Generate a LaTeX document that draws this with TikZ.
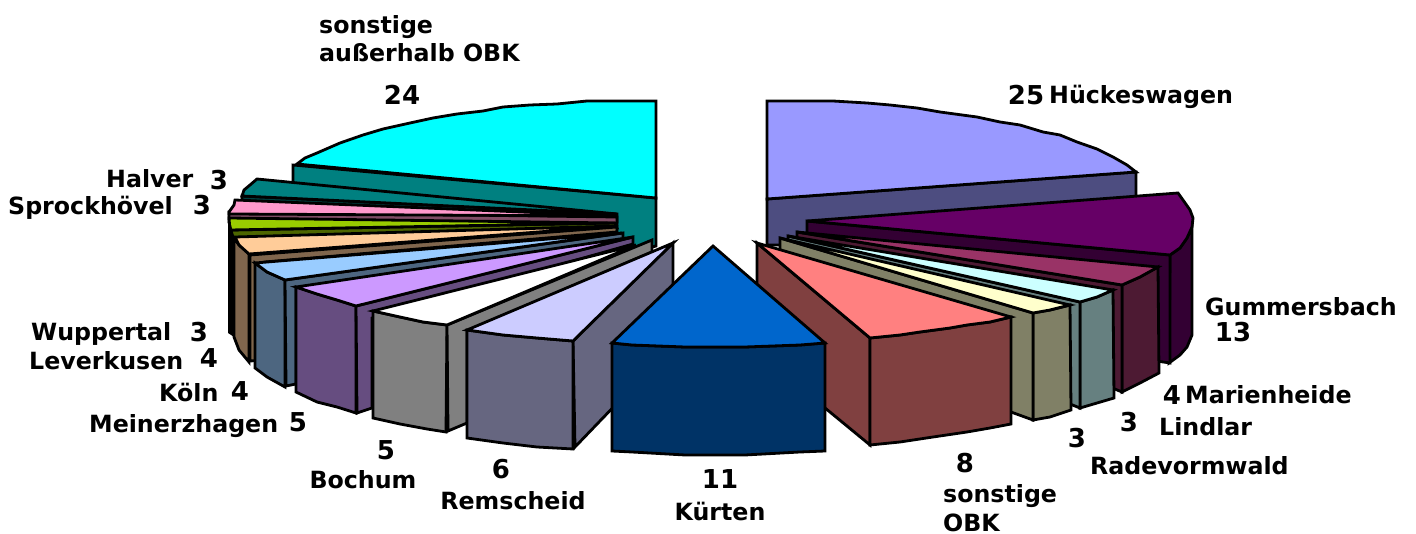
\documentclass[tikz,border=0pt]{standalone}
\usepackage{fontspec}
\setmainfont{DejaVu Sans}[BoldFont={DejaVu Sans Bold}]
\definecolor{cCyan}{HTML}{00FFFF}\definecolor{cCyanD}{HTML}{008080}
\definecolor{cHal}{HTML}{008080}\definecolor{cHalD}{HTML}{004040}
\definecolor{cPink}{HTML}{FF99CC}\definecolor{cPinkD}{HTML}{804D66}
\definecolor{cGreen}{HTML}{99CC00}\definecolor{cGreenD}{HTML}{4D6600}
\definecolor{cPeach}{HTML}{FFCC99}\definecolor{cPeachD}{HTML}{80664D}
\definecolor{cBlue}{HTML}{99CCFF}\definecolor{cBlueD}{HTML}{4D6680}
\definecolor{cLil}{HTML}{CC99FF}\definecolor{cLilD}{HTML}{664D80}
\definecolor{cWhite}{HTML}{FFFFFF}\definecolor{cWhiteD}{HTML}{808080}
\definecolor{cLav}{HTML}{CCCCFF}\definecolor{cLavD}{HTML}{666680}
\definecolor{cKue}{HTML}{0066CC}\definecolor{cKueD}{HTML}{003366}
\definecolor{cRed}{HTML}{FF8080}\definecolor{cRedD}{HTML}{804040}
\definecolor{cKha}{HTML}{FFFFCC}\definecolor{cKhaD}{HTML}{808066}
\definecolor{cLc}{HTML}{CCFFFF}\definecolor{cLcD}{HTML}{668080}
\definecolor{cMar}{HTML}{993366}\definecolor{cMarD}{HTML}{4D1A33}
\definecolor{cGum}{HTML}{660066}\definecolor{cGumD}{HTML}{330033}
\definecolor{cHue}{HTML}{9999FF}\definecolor{cHueD}{HTML}{4D4D80}
\tikzset{
  wedge/.style={draw=black,line width=2.8pt,fill=#1,line join=miter},
  lab/.style={font=\fontsize{23.7}{28}\selectfont\bfseries,inner sep=0pt,anchor=base west,yshift=-1pt},
  labc/.style={font=\fontsize{23.7}{28}\selectfont\bfseries,inner sep=0pt,anchor=base,yshift=-1pt},
  num/.style={font=\fontsize{26}{30}\selectfont\bfseries,inner sep=0pt,anchor=base},
}
\begin{document}
\begin{tikzpicture}[x=1pt,y=-1pt]
\useasboundingbox (0,0) rectangle (1416,534);
% --- right half, back to front
\path[wedge=cHueD] (767,199)--(1136,172)--(1136,200)--(780,245)--(767,245)--cycle;
\path[wedge=cHue] (767,199)--(767,101)--(833,101)--(867,103)--(890,105)--(917,108)--(940,112)--(977,117)--(1000,122)--(1020,125)--(1043,132)--(1060,135)--(1077,142)--(1097,149)--(1113,157)--(1127,165)--(1136,172)--cycle;
% Gummersbach
\path[wedge=cGumD] (1170,255)--(1180,248)--(1187,238)--(1192,227)--(1192,335)--(1187,347)--(1180,355)--(1169,363)--cycle;
\path[wedge=cGumD] (807,221)--(1170,255)--(1170,363)--(1150,360)--(807,240)--cycle;
\path[wedge=cGum] (807,221)--(1178,193)--(1183,200)--(1190,210)--(1193,218)--(1192,227)--(1187,238)--(1180,248)--(1170,255)--cycle;
% Marienheide
\path[wedge=cMarD] (1122,285)--(1140,277)--(1158,267)--(1159,373)--(1140,383)--(1122,392)--cycle;
\path[wedge=cMarD] (797,232)--(1122,285)--(1122,392)--(1105,385)--(797,250)--cycle;
\path[wedge=cMar] (797,232)--(1158,267)--(1140,277)--(1122,285)--cycle;
% Lindlar
\path[wedge=cLcD] (1080,302)--(1097,297)--(1113,290)--(1114,398)--(1097,403)--(1080,408)--cycle;
\path[wedge=cLcD] (788,236)--(1080,302)--(1080,408)--(1060,400)--(788,260)--cycle;
\path[wedge=cLc] (788,236)--(1113,290)--(1097,297)--(1080,302)--cycle;
% Radevormwald
\path[wedge=cKhaD] (1033,313)--(1050,310)--(1070,305)--(1071,410)--(1050,417)--(1033,420)--cycle;
\path[wedge=cKhaD] (780,238)--(1033,313)--(1033,420)--(1000,408)--(780,300)--cycle;
\path[wedge=cKha] (780,238)--(1070,305)--(1050,310)--(1033,313)--cycle;
% sonstige OBK
\path[wedge=cRedD] (757,243)--(870,338)--(870,445)--(757,352)--cycle;
\path[wedge=cRedD] (870,338)--(900,335)--(920,332)--(950,328)--(967,325)--(990,322)--(1011,317)--(1011,424)--(990,428)--(967,432)--(933,437)--(900,442)--(870,445)--cycle;
\path[wedge=cRed] (757,243)--(1011,317)--(990,322)--(967,325)--(950,328)--(920,332)--(900,335)--(870,338)--cycle;
% --- left half, back to front
\path[wedge=cCyanD] (293,165)--(656,198)--(656,246)--(600,260)--(293,200)--cycle;
\path[wedge=cCyan] (656,198)--(656,101)--(587,101)--(557,104)--(530,105)--(503,107)--(483,111)--(457,114)--(433,118)--(410,123)--(383,129)--(363,135)--(340,143)--(317,153)--(305,158)--(297,164)--cycle;
% Halver
\path[wedge=cHalD] (242,196)--(617,214)--(617,222)--(242,206)--cycle;
\path[wedge=cHal] (617,214)--(257,179)--(250,185)--(244,190)--(242,196)--cycle;
% Sprockhoevel
\path[wedge=cPinkD] (229,212)--(617,217)--(617,225)--(229,222)--cycle;
\path[wedge=cPink] (617,216)--(235,200)--(234,205)--(229,212)--(229,214)--cycle;
% green
\path[wedge=cGreenD] (231,230)--(615,223)--(617,228)--(231,238)--cycle;
\path[wedge=cGreen] (615,223)--(229,218)--(230,230)--cycle;
% far left dark wall
\fill[black] (228,214)--(234,236)--(234,337)--(228,333)--cycle;
% peach
\path[wedge=cPeachD] (234,238)--(239,245)--(249,254)--(249,362)--(239,350)--(234,337)--cycle;
\path[wedge=cPeachD] (250,255)--(617,227)--(617,232)--(265,262)--(265,360)--(250,361)--cycle;
\path[wedge=cPeach] (617,226)--(235,237)--(239,245)--(249,254)--cycle;
% blue
\path[wedge=cBlueD] (255,263)--(267,272)--(285,280)--(285,387)--(267,377)--(255,368)--cycle;
\path[wedge=cBlueD] (285,280)--(623,233)--(623,240)--(296,288)--(296,384)--(286,386)--cycle;
\path[wedge=cBlue] (622,233)--(255,263)--(267,272)--(285,280)--cycle;
% lilac
\path[wedge=cLilD] (296,287)--(317,294)--(337,300)--(356,306)--(356,413)--(337,407)--(317,402)--(296,392)--cycle;
\path[wedge=cLilD] (356,306)--(633,237)--(633,244)--(372,318)--(372,408)--(357,413)--cycle;
\path[wedge=cLil] (633,237)--(296,287)--(317,294)--(337,300)--(356,306)--cycle;
% Bochum
\path[wedge=cWhiteD] (373,311)--(400,317)--(423,322)--(447,325)--(446,432)--(427,429)--(400,424)--(373,418)--cycle;
\path[wedge=cWhiteD] (447,325)--(652,240)--(652,252)--(467,331)--(467,423)--(448,431)--cycle;
\path[wedge=cWhite] (636,245)--(373,311)--(400,317)--(423,322)--(447,325)--cycle;
% Remscheid
\path[wedge=cLavD] (573,341)--(673,243)--(673,345)--(575,447)--cycle;
\path[wedge=cLavD] (467,330)--(503,335)--(537,338)--(573,341)--(573,449)--(537,447)--(503,443)--(467,438)--cycle;
\path[wedge=cLav] (673,243)--(467,330)--(503,335)--(537,338)--(573,341)--cycle;
% Kuerten
\path[wedge=cKueD] (612,343)--(632,345)--(685,347)--(745,347)--(800,345)--(825,343)--(825,451)--(800,452)--(745,455)--(685,455)--(632,452)--(612,451)--cycle;
\path[wedge=cKue] (713,246)--(612,343)--(632,345)--(685,347)--(745,347)--(800,345)--(825,343)--cycle;
% --- labels
\node[lab] (a1) at (319,33) {sonstige};
\node[lab] (a2) at (319,61) {außerhalb OBK};
\node[num] (a3) at (402,105) {24};
\node[num] (b1) at (1026,105) {25};
\node[lab] (b2) at (1049,103) {Hückeswagen};
\node[lab] (c1) at (1205,315) {Gummersbach};
\node[num] (c2) at (1233,342) {13};
\node[num] (d1) at (1172,404) {4};
\node[lab] (d2) at (1185,402) {Marienheide};
\node[num] (e1) at (1129,431) {3};
\node[lab] (e2) at (1159,434) {Lindlar};
\node[num] (f1) at (1077,447) {3};
\node[lab] (f2) at (1090,473) {Radevormwald};
\node[num] (g1) at (965,472) {8};
\node[lab] (g2) at (943,501) {sonstige};
\node[lab] (g3) at (943,530) {OBK};
\node[num] (h1) at (720,488) {11};
\node[labc] (h2) at (720,519) {Kürten};
\node[num] (i1) at (501,478) {6};
\node[labc] (i2) at (513,508) {Remscheid};
\node[num] (j1) at (386,459) {5};
\node[labc] (j2) at (363,487) {Bochum};
\node[lab] (k1) at (89,431) {Meinerzhagen};
\node[num] (k2) at (298,431) {5};
\node[lab] (l1) at (159,400) {Köln};
\node[num] (l2) at (240,400) {4};
\node[lab] (m1) at (29,369) {Leverkusen};
\node[num] (m2) at (209,368) {4};
\node[lab] (n1) at (31,340) {Wuppertal};
\node[num] (n2) at (199,342) {3};
\node[lab] (o1) at (106,187) {Halver};
\node[num] (o2) at (219,190) {3};
\node[lab] (p1) at (8,214) {Sprockhövel};
\node[num] (p2) at (202,215) {3};
\end{tikzpicture}
\end{document}
